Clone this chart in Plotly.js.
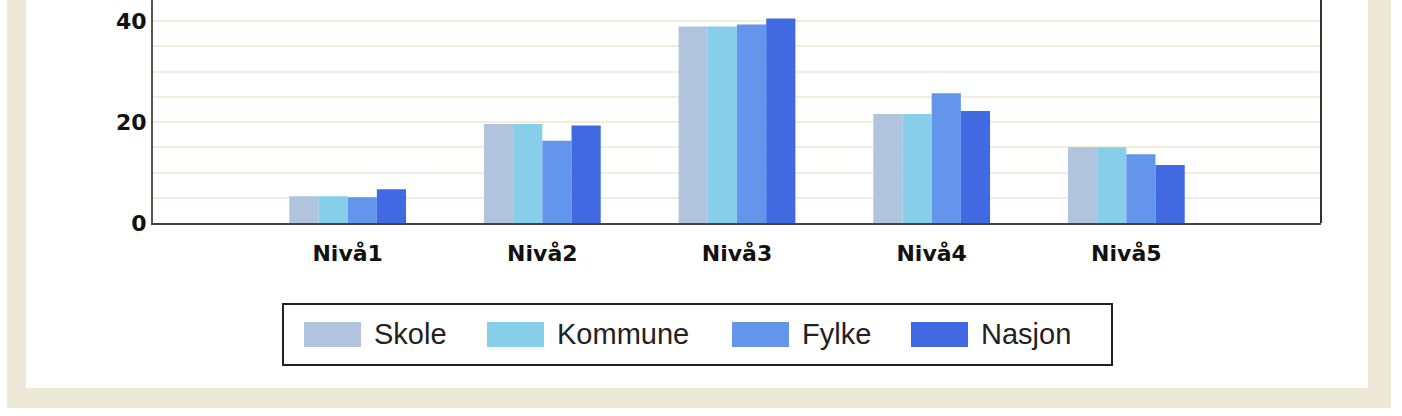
<!DOCTYPE html>
<html>
<head>
<meta charset="utf-8">
<script src="https://cdn.plot.ly/plotly-3.0.1.min.js"></script>
<style>
  html, body { margin: 0; padding: 0; background: #ffffff; overflow: hidden; width: 1402px; height: 416px; }
  #frame { position: absolute; left: 7px; top: -30px; width: 1384px; height: 438px; background: #EEE8D6; }
  #inner { position: absolute; left: 26px; top: -30px; width: 1342px; height: 418px; background: #ffffff; }
  #chart { position: absolute; left: 0; top: 0; width: 1402px; height: 416px; }
</style>
</head>
<body>
<div id="frame"></div>
<div id="inner"></div>
<div id="chart"></div>
<script>
// ---- data ----
const categories = ["Nivå1", "Nivå2", "Nivå3", "Nivå4", "Nivå5"];
const seriesNames = ["Skole", "Kommune", "Fylke", "Nasjon"];
const skole   = [5.3, 19.6, 38.9, 21.6, 15.0];
const kommune = [5.3, 19.6, 38.9, 21.6, 15.0];
const fylke   = [5.1, 16.3, 39.3, 25.7, 13.6];
const nasjon  = [6.7, 19.3, 40.5, 22.2, 11.5];
const yTickValues = [0, 20, 40];

// ---- styles ----
const seriesValues = [skole, kommune, fylke, nasjon];
const colors = ["#B0C4DE", "#87CEEB", "#6495ED", "#4169E1"];

const W = 1402, H = 416;
const plotL = 153, plotR = 1321, plotT = 0, plotB = 223;
const px2x = px => (px - plotL) / (plotR - plotL);
const py2y = py => (plotB - py) / (plotB - plotT);

const traces = seriesNames.map((name, i) => ({
  type: "bar",
  name: name,
  x: categories,
  y: seriesValues[i],
  marker: { color: colors[i], line: { width: 0 } },
  hoverinfo: "x+y+name"
}));

// custom legend (large swatches like the reference)
const legendSwatchX = [304, 487, 732, 911];
const shapes = [
  // right border of plot
  { type: "line", xref: "paper", yref: "paper", x0: 1, x1: 1, y0: 0, y1: 1.05,
    line: { color: "#333333", width: 2 } },
  // legend box
  { type: "rect", xref: "paper", yref: "paper",
    x0: px2x(283), x1: px2x(1112), y0: py2y(304), y1: py2y(365),
    line: { color: "#222222", width: 2 }, fillcolor: "#ffffff" }
];
const annotations = [];
seriesNames.forEach((name, i) => {
  const sx = legendSwatchX[i];
  shapes.push({ type: "rect", xref: "paper", yref: "paper",
    x0: px2x(sx), x1: px2x(sx + 57), y0: py2y(322), y1: py2y(347),
    line: { width: 0 }, fillcolor: colors[i] });
  annotations.push({ xref: "paper", yref: "paper", x: px2x(sx + 68), y: py2y(334),
    xanchor: "left", yanchor: "middle", showarrow: false, text: name,
    font: { family: "Liberation Sans, Arial, sans-serif", size: 29, color: "#222222" } });
});

const tickFont = { family: "DejaVu Sans, Verdana, sans-serif", size: 22, weight: "bold", color: "#111111" };

const layout = {
  width: W, height: H,
  margin: { l: plotL, r: W - plotR, t: plotT, b: H - plotB, pad: 0 },
  paper_bgcolor: "rgba(0,0,0,0)",
  plot_bgcolor: "#ffffff",
  barmode: "group",
  bargap: 0.4,
  bargroupgap: 0,
  showlegend: false,
  xaxis: {
    type: "category",
    range: [-1, 5],
    showgrid: false,
    zeroline: false,
    showline: true, linecolor: "#444444", linewidth: 2,
    ticks: "",
    ticklabelstandoff: 10,
    tickfont: tickFont,
    fixedrange: true
  },
  yaxis: {
    range: [0, 44.16],
    tickmode: "array",
    tickvals: yTickValues,
    ticktext: yTickValues.map(String),
    showgrid: true, gridcolor: "#F3EEDC", gridwidth: 2,
    minor: { dtick: 5, showgrid: true, gridcolor: "#F3EEDC", gridwidth: 2, ticks: "" },
    zeroline: false,
    showline: true, linecolor: "#555555", linewidth: 2,
    ticks: "",
    tickfont: tickFont,
    fixedrange: true
  },
  shapes: shapes,
  annotations: annotations
};

Plotly.newPlot("chart", traces, layout, { displayModeBar: false, staticPlot: true });
</script>
</body>
</html>
